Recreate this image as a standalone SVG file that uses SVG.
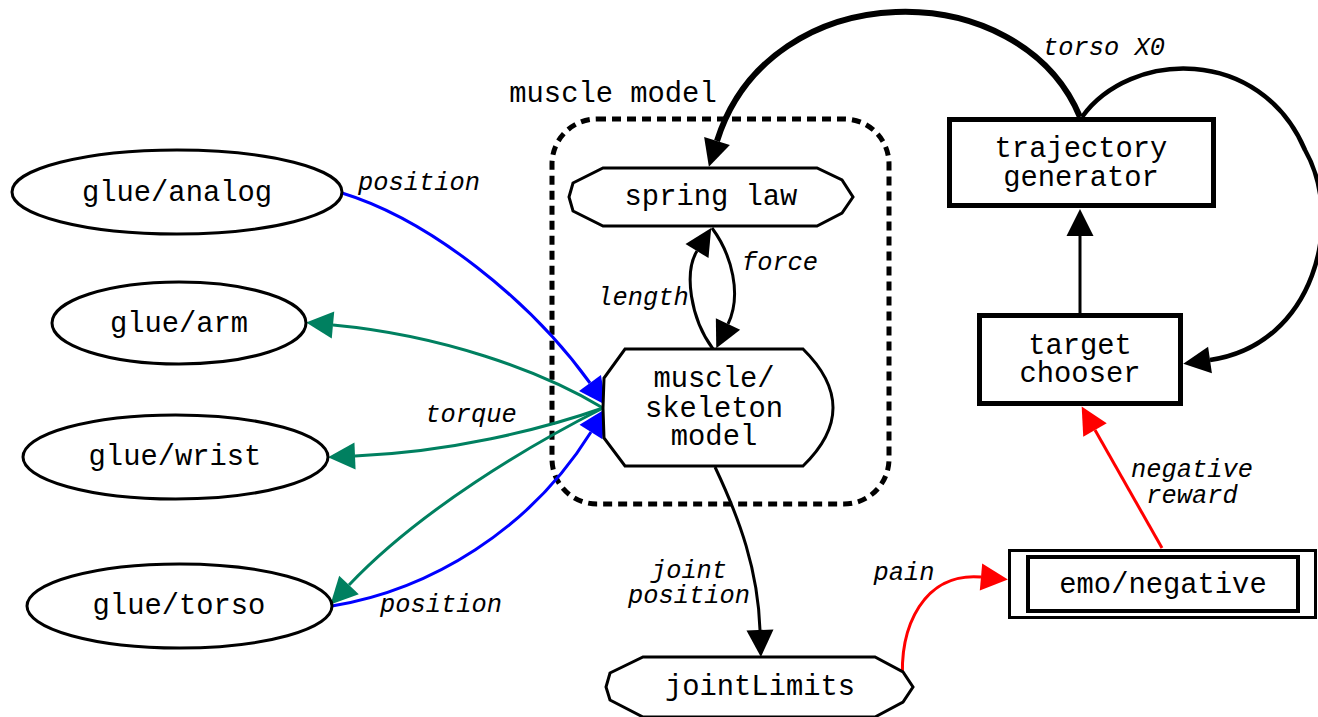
<svg xmlns="http://www.w3.org/2000/svg" width="1318" height="717" viewBox="0 0 1318 717">
  <style>
    .node { fill: #ffffff; stroke: #000000; stroke-width: 3; }
    .box { fill: #ffffff; stroke: #000000; stroke-width: 5; }
    .lbl { font-family: "Liberation Mono", "DejaVu Sans Mono", monospace; font-size: 28.8px; fill: #000000; text-anchor: middle; }
    .elbl { font-family: "Liberation Mono", "DejaVu Sans Mono", monospace; font-size: 25.4px; font-style: italic; fill: #000000; text-anchor: middle; }
    .edge { fill: none; stroke-width: 3; }
    .black { stroke: #000000; }
    .blue { stroke: #0000ff; }
    .green { stroke: #008060; }
    .red { stroke: #ff0000; }
  </style>
  <defs>
    <marker id="ah-black" markerUnits="userSpaceOnUse" markerWidth="30" markerHeight="30" refX="0" refY="0" orient="auto" overflow="visible">
      <path d="M0,-13.5 L27,0 L0,13.5 z" fill="#000000"/>
    </marker>
    <marker id="ah-blue" markerUnits="userSpaceOnUse" markerWidth="30" markerHeight="30" refX="0" refY="0" orient="auto" overflow="visible">
      <path d="M0,-13.5 L27,0 L0,13.5 z" fill="#0000ff"/>
    </marker>
    <marker id="ah-green" markerUnits="userSpaceOnUse" markerWidth="30" markerHeight="30" refX="0" refY="0" orient="auto" overflow="visible">
      <path d="M0,-13.5 L27,0 L0,13.5 z" fill="#008060"/>
    </marker>
    <marker id="ah-red" markerUnits="userSpaceOnUse" markerWidth="30" markerHeight="30" refX="0" refY="0" orient="auto" overflow="visible">
      <path d="M0,-13.5 L27,0 L0,13.5 z" fill="#ff0000"/>
    </marker>
  </defs>

  <!-- cluster: muscle model -->
  <g id="cluster-muscle-model">
    <rect x="552" y="119" width="337" height="385" rx="45" ry="45" fill="none" stroke="#000000" stroke-width="5" stroke-dasharray="9 6"/>
    <text class="lbl" x="613" y="102">muscle model</text>
  </g>

  <!-- connectors -->
  <g id="edges">
    <!-- torso X0: trajectory generator -> spring law -->
    <path class="black" fill="none" stroke-width="6" d="M1080,117 C1020,-27 770,-27 717,141" marker-end="url(#ah-black)"/>
    <text class="elbl" x="1104" y="55">torso X0</text>
    <!-- trajectory generator -> target chooser (loop) -->
    <path class="black" fill="none" stroke-width="4.5" d="M1082,117 C1130,50 1260,45 1305,150 C1345,220 1315,345 1210,360" marker-end="url(#ah-black)"/>
    <!-- target chooser -> trajectory generator -->
    <path class="edge black" d="M1080,313 L1080,236" marker-end="url(#ah-black)"/>
    <!-- length: muscle -> spring law -->
    <path class="edge black" d="M713,349 C690,318 684,272 697,251" marker-end="url(#ah-black)"/>
    <text class="elbl" x="643" y="305">length</text>
    <!-- force: spring law -> muscle -->
    <path class="edge black" d="M712,228 C732,255 742,295 728,324" marker-end="url(#ah-black)"/>
    <text class="elbl" x="780" y="270">force</text>
    <!-- joint position: muscle -> jointLimits -->
    <path class="edge black" d="M715,467 C740,520 758,570 760,630" marker-end="url(#ah-black)"/>
    <text class="elbl" x="689" y="578">joint</text>
    <text class="elbl" x="689" y="603">position</text>
    <!-- position: glue/analog -> muscle -->
    <path class="edge blue" d="M342,193 C430,220 530,300 590,383" marker-end="url(#ah-blue)"/>
    <text class="elbl" x="419" y="190">position</text>
    <!-- position: glue/torso -> muscle -->
    <path class="edge blue" d="M332,606 C430,590 530,530 591,432" marker-end="url(#ah-blue)"/>
    <text class="elbl" x="441" y="612">position</text>
    <!-- torque: muscle -> glue/arm, glue/wrist, glue/torso -->
    <path class="edge green" d="M603,408 C540,370 440,335 333,325" marker-end="url(#ah-green)"/>
    <path class="edge green" d="M603,408 C540,430 450,452 355,456" marker-end="url(#ah-green)"/>
    <path class="edge green" d="M603,408 C530,445 420,510 349,585" marker-end="url(#ah-green)"/>
    <text class="elbl" x="471" y="422">torque</text>
    <!-- pain: jointLimits -> emo/negative -->
    <path class="edge red" d="M903,686 C898,625 925,572 981,577" marker-end="url(#ah-red)"/>
    <text class="elbl" x="904" y="580">pain</text>
    <!-- negative reward: emo/negative -> target chooser -->
    <path class="edge red" d="M1162,548 L1095,430" marker-end="url(#ah-red)"/>
    <text class="elbl" x="1192" y="477">negative</text>
    <text class="elbl" x="1192" y="503">reward</text>
  </g>

  <!-- nodes -->
  <g id="glue-analog">
    <ellipse class="node" cx="177" cy="192" rx="165" ry="42"/>
    <text class="lbl" x="177" y="201">glue/analog</text>
  </g>
  <g id="glue-arm">
    <ellipse class="node" cx="179" cy="323" rx="127" ry="41"/>
    <text class="lbl" x="179" y="332">glue/arm</text>
  </g>
  <g id="glue-wrist">
    <ellipse class="node" cx="175.5" cy="457" rx="152.5" ry="42"/>
    <text class="lbl" x="175" y="465">glue/wrist</text>
  </g>
  <g id="glue-torso">
    <ellipse class="node" cx="179.5" cy="606" rx="152.5" ry="42"/>
    <text class="lbl" x="179" y="614">glue/torso</text>
  </g>
  <g id="spring-law">
    <polygon class="node" points="603,168 817,168 842,180 853,197 842,213 817,226 603,226 573,211 569,197 573,183"/>
    <text class="lbl" x="711" y="205">spring law</text>
  </g>
  <g id="muscle-skeleton-model">
    <path class="node" d="M625,349 L803,349 Q863,408 803,466 L625,466 L604,438 L603,408 L604,378 Z"/>
    <text class="lbl" x="714" y="387">muscle/</text>
    <text class="lbl" x="714" y="417">skeleton</text>
    <text class="lbl" x="714" y="445">model</text>
  </g>
  <g id="jointLimits">
    <polygon class="node" points="643,657 875,657 903,672 913,687 903,702 875,717 643,717 610,700 606,687 610,673"/>
    <text class="lbl" x="760" y="695">jointLimits</text>
  </g>
  <g id="trajectory-generator">
    <rect class="box" x="949.5" y="119.5" width="264" height="86"/>
    <text class="lbl" x="1081" y="157">trajectory</text>
    <text class="lbl" x="1081" y="186">generator</text>
  </g>
  <g id="target-chooser">
    <rect class="box" x="979.5" y="315.5" width="201" height="88"/>
    <text class="lbl" x="1080" y="354">target</text>
    <text class="lbl" x="1080" y="382">chooser</text>
  </g>
  <g id="emo-negative">
    <rect x="1009.5" y="550.5" width="306" height="67" fill="#ffffff" stroke="#000000" stroke-width="3"/>
    <rect x="1028" y="557" width="270" height="54" fill="#ffffff" stroke="#000000" stroke-width="4"/>
    <text class="lbl" x="1163" y="593">emo/negative</text>
  </g>
</svg>
